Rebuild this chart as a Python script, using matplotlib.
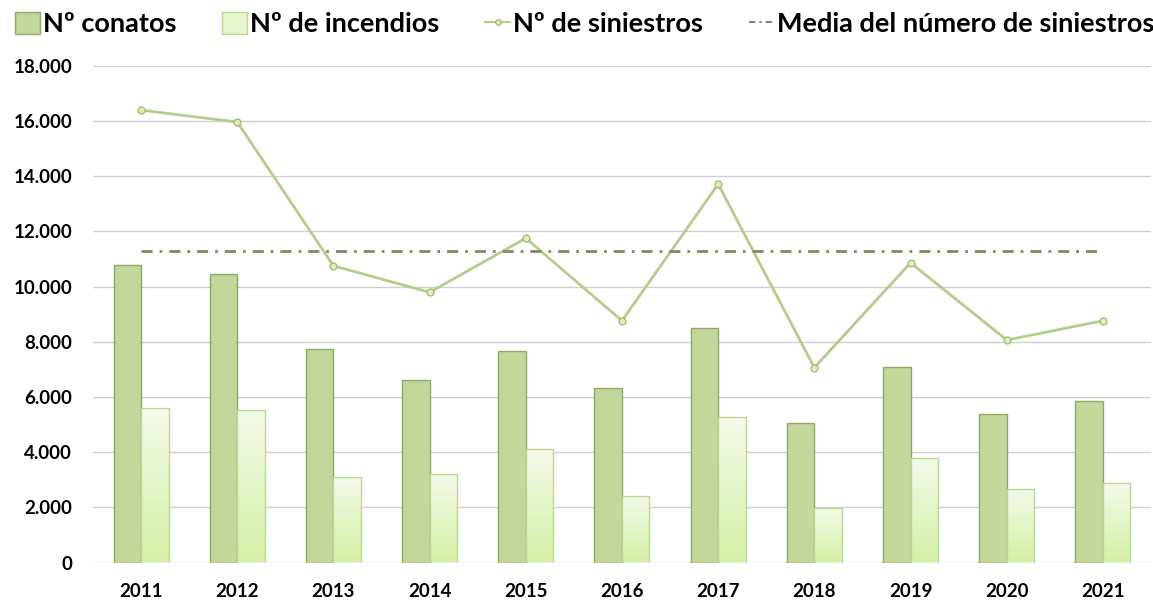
import matplotlib
matplotlib.use("Agg")
import matplotlib.pyplot as plt
import numpy as np
from matplotlib.lines import Line2D
from matplotlib.patches import Patch
from matplotlib.colors import LinearSegmentedColormap

years = ["2011", "2012", "2013", "2014", "2015", "2016", "2017", "2018", "2019", "2020", "2021"]
conatos = [10780, 10440, 7720, 6600, 7670, 6310, 8490, 5040, 7090, 5380, 5860]
incendios = [5590, 5530, 3090, 3200, 4100, 2420, 5260, 1990, 3780, 2650, 2890]
siniestros = [16390, 15960, 10750, 9790, 11750, 8760, 13710, 7060, 10860, 8060, 8760]
media = 11300
yticks = [0, 2000, 4000, 6000, 8000, 10000, 12000, 14000, 16000, 18000]

plt.rcParams['font.family'] = ['Lato', 'DejaVu Sans']

fig = plt.figure(figsize=(11.53, 6.0), dpi=100)
ax = fig.add_axes([0.0806, 0.0625, 0.9177, 0.828])

x = np.arange(len(years))
w = 0.286

c_fill = "#c3d69b"
c_edge = "#8fa862"
bars1 = ax.bar(x - w / 2, conatos, w, color=c_fill, edgecolor=c_edge, linewidth=1.0, zorder=3)
bars2 = ax.bar(x + w / 2, incendios, w, color="none", edgecolor="#b9d993", linewidth=1.0, zorder=4)

grad = np.linspace(0, 1, 256).reshape(-1, 1)
cmap = LinearSegmentedColormap.from_list("g", ["#d5f0a5", "#f4faea"])
for b in bars2:
    bx, by = b.get_x(), b.get_y()
    bw, bh = b.get_width(), b.get_height()
    im = ax.imshow(grad, extent=[bx, bx + bw, by, by + bh], origin="lower",
                   cmap=cmap, aspect="auto", zorder=3.5)
    im.set_clip_path(b)

ax.plot(x, siniestros, color="#b3cd8c", lw=2.0, marker="o", markersize=5,
        markerfacecolor="#dcedc0", markeredgecolor="#a3c177", markeredgewidth=1, zorder=5)
ax.plot([x[0], x[-1]], [media, media], color="#7d8c5e", lw=2.0,
        linestyle=(0, (4, 2.5, 1, 2.5)), zorder=5)

ax.set_xlim(-0.5, len(years) - 0.5)
ax.set_ylim(0, 18000)
ax.set_yticks(yticks)
ax.set_yticklabels(["0"] + [f"{v // 1000}.000" for v in yticks[1:]])
ax.set_xticks(x)
ax.set_xticklabels(years)
ax.yaxis.grid(True, color="#cfcfcf", lw=1.0, zorder=0)
ax.set_axisbelow(True)
for s in ax.spines.values():
    s.set_visible(False)
ax.tick_params(axis="both", length=0, labelsize=13.5)
ax.tick_params(axis="y", pad=15)
ax.tick_params(axis="x", pad=15)
for lab in ax.get_xticklabels() + ax.get_yticklabels():
    lab.set_fontweight("bold")

handles = [
    Patch(facecolor=c_fill, edgecolor=c_edge),
    Patch(facecolor="#e6f5cc", edgecolor="#b9d993"),
    Line2D([0], [0], color="#b3cd8c", lw=1.5, marker="o", markersize=4,
           markerfacecolor="#dcedc0", markeredgecolor="#a3c177"),
    Line2D([0], [0], color="#7d8c5e", lw=1.5, linestyle=(0, (3, 2, 1, 2))),
]
labels = ["Nº conatos", "Nº de incendios", "Nº de siniestros", "Media del número de siniestros"]
leg = fig.legend(handles, labels, loc="center", bbox_to_anchor=(0.507, 0.96), ncol=4,
                 frameon=False, prop={"weight": "bold", "size": 19.5},
                 handlelength=0.9, handletextpad=0.12, columnspacing=1.7, handleheight=0.9)

fig.savefig("out.png", dpi=100)
